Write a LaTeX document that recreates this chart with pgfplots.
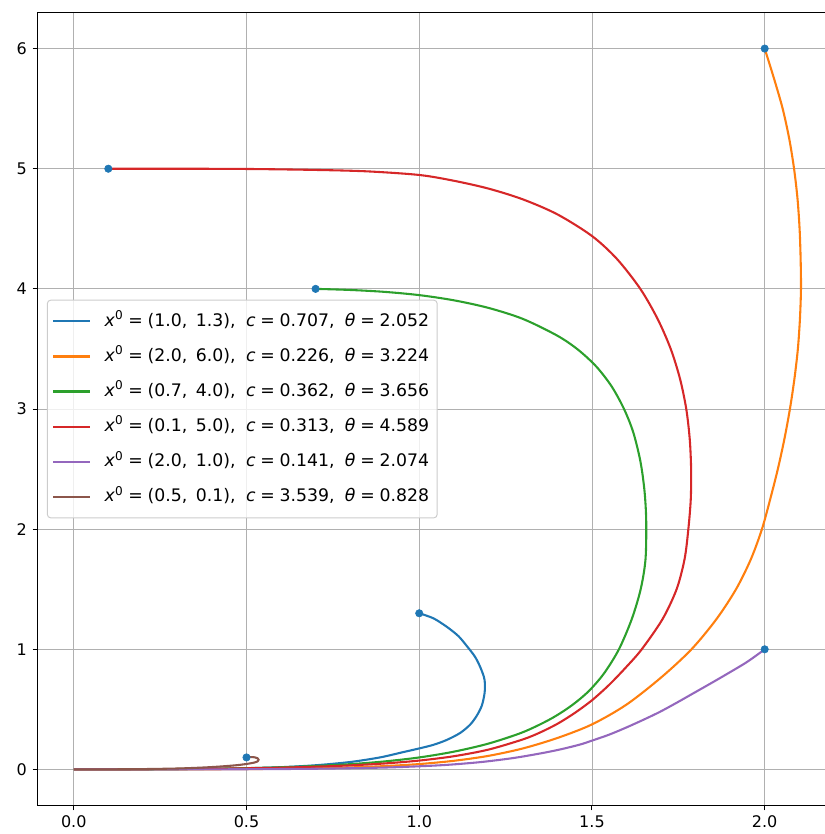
\documentclass[border=0pt]{standalone}
\usepackage{fontspec}
\setmainfont{DejaVu Sans}
\usepackage{pgfplots}
\pgfplotsset{compat=1.18}
\definecolor{c0}{HTML}{1F77B4}
\definecolor{c1}{HTML}{FF7F0E}
\definecolor{c2}{HTML}{2CA02C}
\definecolor{c3}{HTML}{D62728}
\definecolor{c4}{HTML}{9467BD}
\definecolor{c5}{HTML}{8C564B}
\definecolor{gridc}{HTML}{B0B0B0}
\definecolor{legc}{HTML}{CCCCCC}
\newcommand{\eq}{\;=\;}
\newcommand{\sep}{,\hspace{0.6em}}
\newcommand{\tp}{,\enspace}
\begin{document}
\begin{tikzpicture}
\begin{axis}[
  scale only axis, width=499.4pt, height=495.6pt,
  xmin=-0.105, xmax=2.208, ymin=-0.3, ymax=6.3,
  xtick={0,0.5,1,1.5,2}, ytick={0,1,2,3,4,5,6},
  grid=major, major grid style={line width=0.5pt, draw=gridc},
  axis line style={line width=0.6pt},
  tick align=outside, tick pos=left, major tick length=3.1pt,
  every tick/.style={black, line width=0.6pt},
  /pgf/number format/assume math mode=true,
  xticklabel style={/pgf/number format/.cd, fixed, fixed zerofill, precision=1},
  ticklabel style={font=\fontsize{10}{12}\selectfont},
  legend cell align=left,
  legend image code/.code={\draw[#1] (0pt,0pt) -- (23pt,0pt);},
  legend style={at={(0,0.5)}, anchor=west, xshift=5.9pt, draw=legc, fill=white,
    fill opacity=0.8, text opacity=1, draw opacity=1, rounded corners=2pt, line width=0.6pt,
    font=\fontsize{10.8}{13}\selectfont, row sep=10.9pt, column sep=6.5pt,
    inner xsep=3pt, inner ysep=7.75pt,
    nodes={inner ysep=0pt, text height=8.5pt, text depth=2.5pt}},
  curve/.style={line width=1.3pt, smooth},
]
\addplot[only marks, mark=*, mark size=2.3pt, c0, forget plot] coordinates {(1.0,1.3) (2.0,6.0) (0.7,4.0) (0.1,5.0) (2.0,1.0) (0.5,0.1)};

\addplot[c0, curve] coordinates {(1.0,1.30) (1.041,1.258) (1.079,1.189) (1.113,1.111) (1.137,1.03) (1.161,0.94) (1.176,0.856) (1.187,0.772) (1.190,0.717) (1.189,0.633) (1.181,0.53) (1.166,0.445) (1.147,0.372) (1.118,0.303) (1.079,0.245) (1.041,0.205) (1.0,0.175) (0.95,0.142) (0.886,0.10) (0.8,0.062) (0.7,0.035) (0.6,0.019) (0.5,0.01) (0.4,0.005) (0.3,0.002) (0.15,0.0005) (0,0)};
\addlegendentry{\textit{x}\textsuperscript{0}\eq(1.0\tp1.3)\sep\textit{c}\eq0.707\sep\textit{θ}\eq2.052}

\addplot[c1, curve] coordinates {(2.0,6.0) (2.027,5.75) (2.052,5.5) (2.071,5.25) (2.085,5.0) (2.095,4.75) (2.101,4.5) (2.104,4.25) (2.105,4.0) (2.102,3.75) (2.096,3.5) (2.086,3.25) (2.073,3.0) (2.057,2.75) (2.038,2.5) (2.016,2.25) (1.992,2.0) (1.960,1.75) (1.917,1.5) (1.860,1.25) (1.788,1.0) (1.702,0.77) (1.6,0.54) (1.5,0.375) (1.4,0.262) (1.3,0.175) (1.2,0.113) (1.1,0.072) (1.0,0.045) (0.9,0.028) (0.8,0.017) (0.7,0.01) (0.6,0.006) (0.5,0.003) (0.3,0.001) (0,0)};
\addlegendentry{\textit{x}\textsuperscript{0}\eq(2.0\tp6.0)\sep\textit{c}\eq0.226\sep\textit{θ}\eq3.224}

\addplot[c2, curve] coordinates {(0.7,4.0) (0.8,3.991) (0.9,3.975) (1.0,3.948) (1.1,3.905) (1.2,3.842) (1.3,3.75) (1.4,3.61) (1.46,3.493) (1.513,3.352) (1.557,3.188) (1.592,3.005) (1.619,2.811) (1.640,2.568) (1.652,2.321) (1.657,2.07) (1.655,1.75) (1.641,1.5) (1.615,1.25) (1.578,1.0) (1.535,0.80) (1.49,0.65) (1.44,0.53) (1.38,0.42) (1.3,0.31) (1.2,0.215) (1.1,0.148) (1.0,0.1) (0.9,0.067) (0.8,0.044) (0.7,0.029) (0.6,0.018) (0.5,0.011) (0.4,0.006) (0.3,0.0035) (0.2,0.0015) (0.1,0.0005) (0,0)};
\addlegendentry{\textit{x}\textsuperscript{0}\eq(0.7\tp4.0)\sep\textit{c}\eq0.362\sep\textit{θ}\eq3.656}

\addplot[c3, curve] coordinates {(0.1,5.0) (0.3,5.0) (0.5,4.998) (0.7,4.99) (0.85,4.978) (1.0,4.948) (1.1,4.9) (1.2,4.835) (1.3,4.745) (1.4,4.62) (1.5,4.44) (1.572,4.25) (1.64,4.0) (1.69,3.75) (1.728,3.5) (1.755,3.25) (1.773,3.0) (1.783,2.75) (1.787,2.5) (1.786,2.25) (1.779,2.0) (1.768,1.75) (1.745,1.5) (1.704,1.25) (1.644,1.0) (1.6,0.855) (1.55,0.705) (1.5,0.576) (1.45,0.47) (1.4,0.38) (1.35,0.308) (1.3,0.25) (1.2,0.165) (1.1,0.11) (1.0,0.074) (0.9,0.05) (0.8,0.034) (0.7,0.023) (0.6,0.015) (0.5,0.0095) (0.4,0.006) (0.3,0.0035) (0.2,0.0018) (0.1,0.0006) (0,0)};
\addlegendentry{\textit{x}\textsuperscript{0}\eq(0.1\tp5.0)\sep\textit{c}\eq0.313\sep\textit{θ}\eq4.589}

\addplot[c4, curve] coordinates {(2.0,1.0) (1.949,0.895) (1.891,0.795) (1.84,0.71) (1.794,0.635) (1.745,0.555) (1.697,0.48) (1.65,0.415) (1.6,0.35) (1.55,0.29) (1.5,0.24) (1.465,0.207) (1.407,0.166) (1.35,0.133) (1.272,0.095) (1.18,0.062) (1.079,0.038) (0.98,0.024) (0.886,0.015) (0.7,0.006) (0.5,0.002) (0.3,0.0005) (0,0)};
\addlegendentry{\textit{x}\textsuperscript{0}\eq(2.0\tp1.0)\sep\textit{c}\eq0.141\sep\textit{θ}\eq2.074}

\addplot[c5, curve] coordinates {(0.5,0.1) (0.512,0.103) (0.524,0.101) (0.532,0.093) (0.535,0.08) (0.532,0.067) (0.522,0.057) (0.505,0.048) (0.48,0.038) (0.45,0.03) (0.4,0.02) (0.35,0.013) (0.3,0.008) (0.2,0.003) (0.1,0.001) (0,0)};
\addlegendentry{\textit{x}\textsuperscript{0}\eq(0.5\tp0.1)\sep\textit{c}\eq3.539\sep\textit{θ}\eq0.828}
\end{axis}
\pgfresetboundingbox
\path[use as bounding box] ([shift={(-23.44pt,-17.81pt)}]current axis.south west) rectangle ([shift={(491.56pt,503.44pt)}]current axis.south west);
\end{tikzpicture}
\end{document}
